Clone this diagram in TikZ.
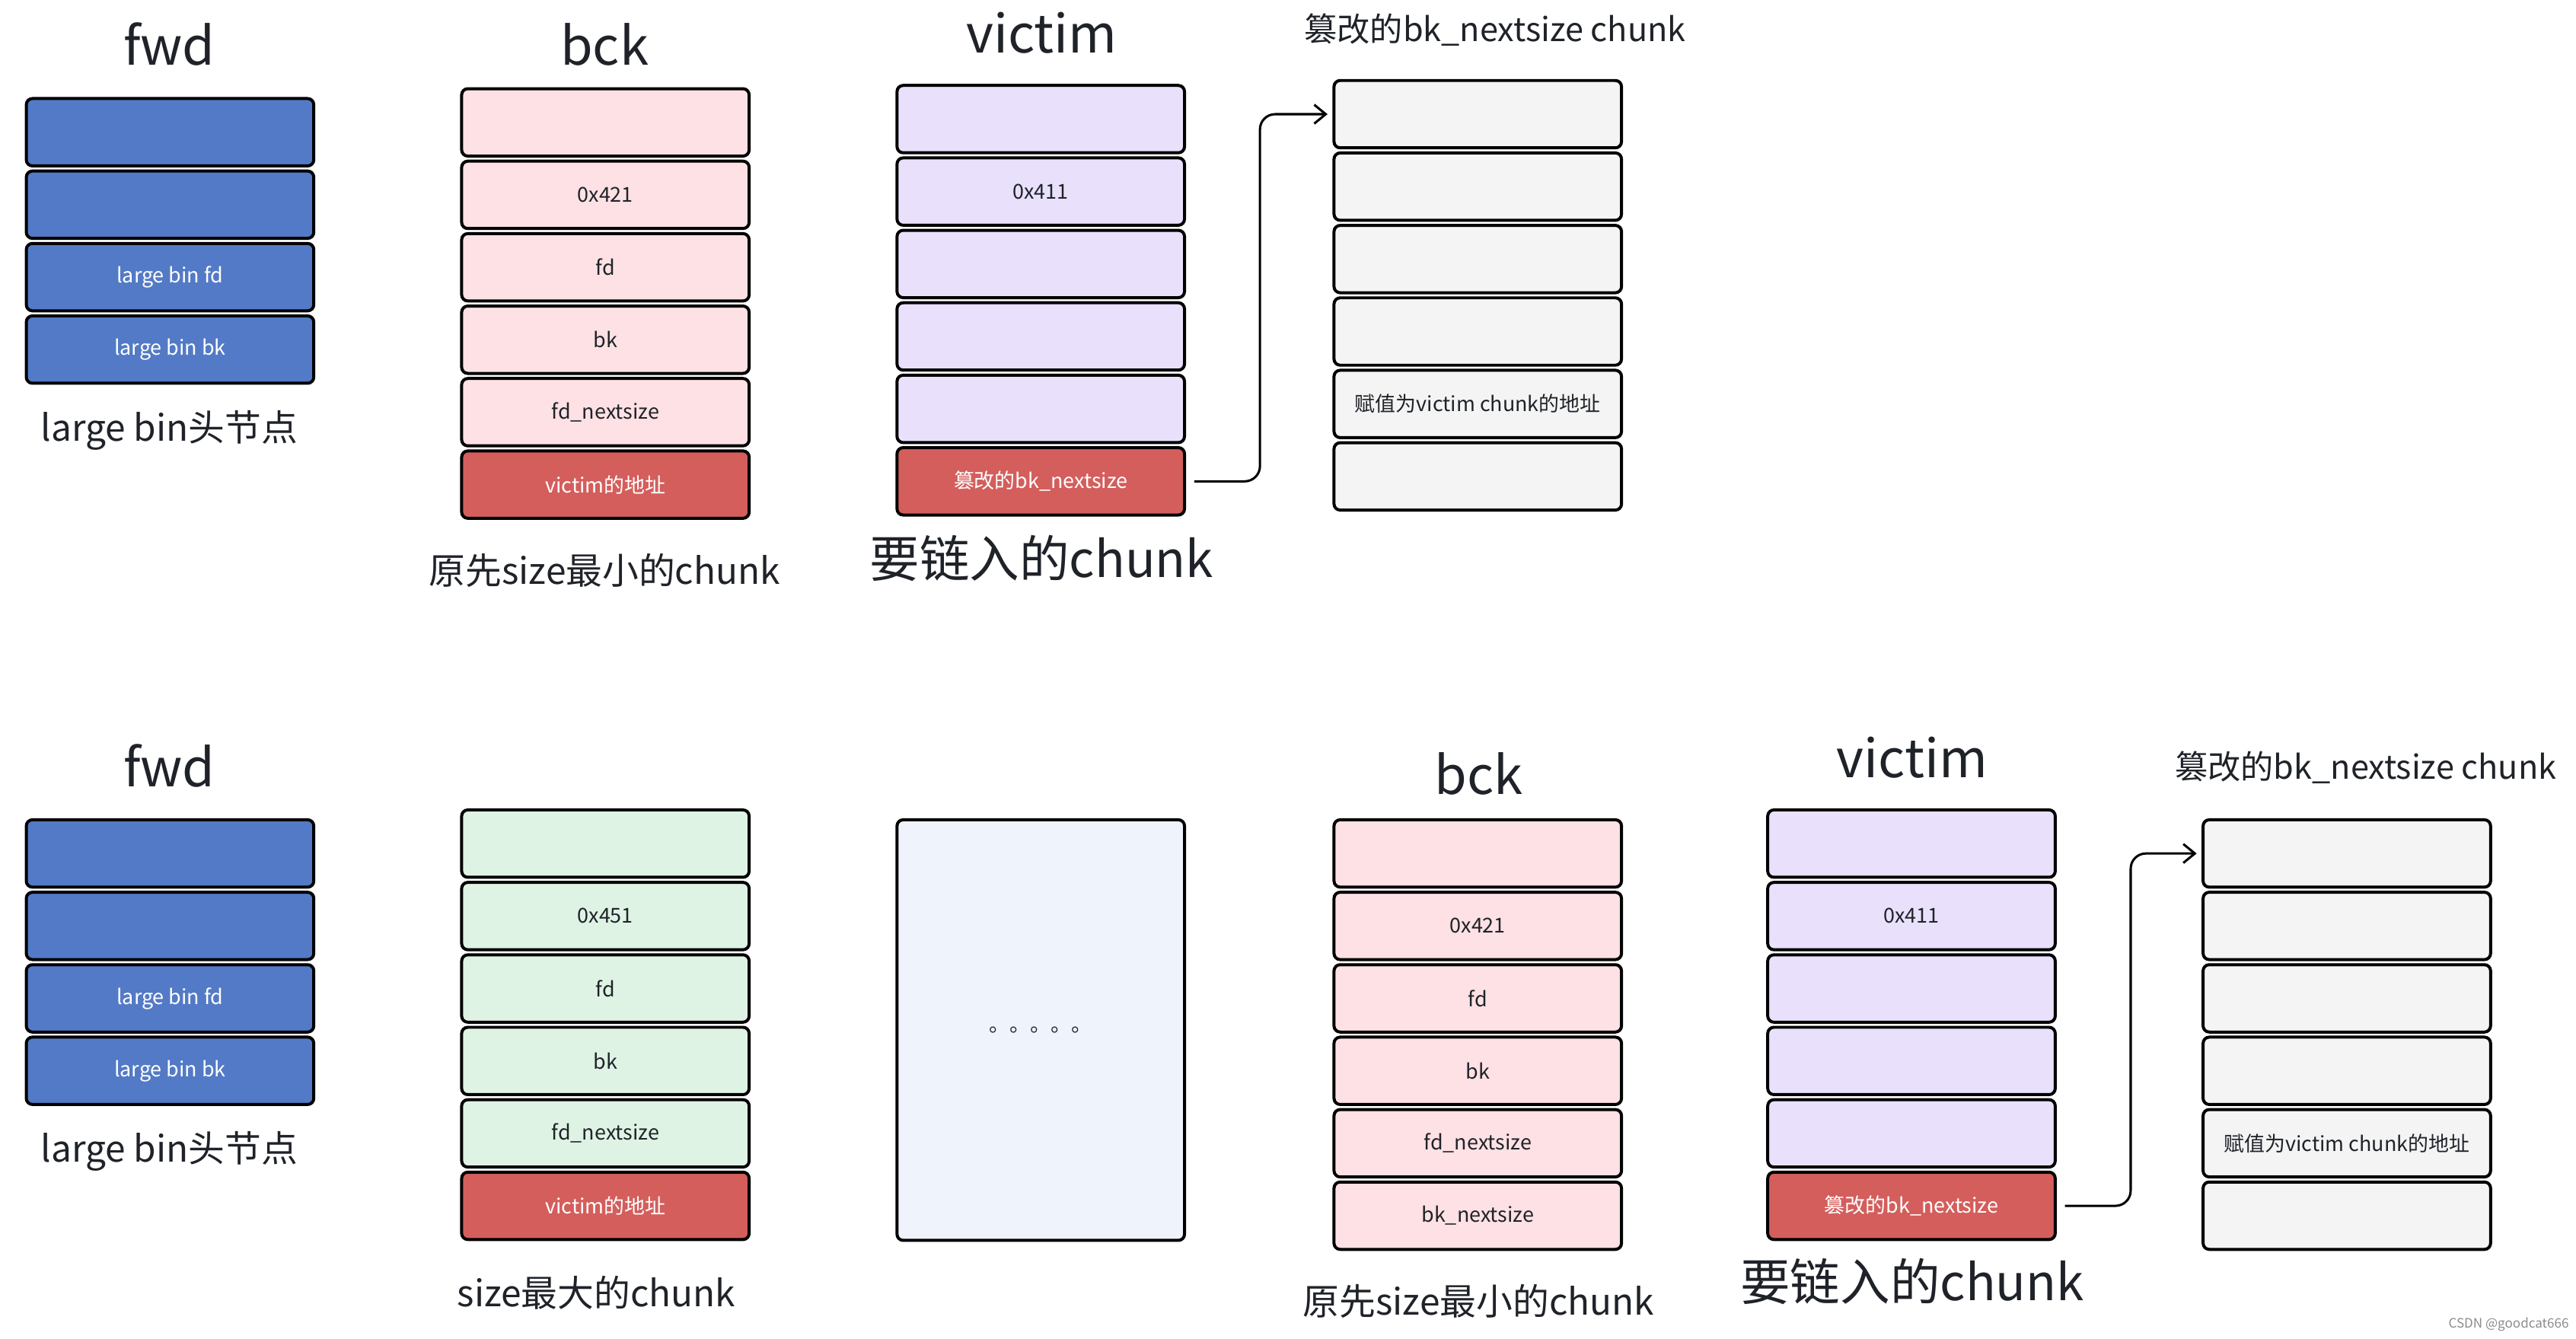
\documentclass[tikz,border=0pt]{standalone}
\usepackage{fontspec}
\setmainfont{Noto Sans CJK SC}
\usepackage{tikz}
\usetikzlibrary{positioning, arrows.meta}
\definecolor{inkdark}{RGB}{31,35,41}
\definecolor{binblue}{RGB}{83,122,198}
\definecolor{chunkpink}{RGB}{253,225,228}
\definecolor{chunkred}{RGB}{212,94,92}
\definecolor{chunklilac}{RGB}{233,225,251}
\definecolor{chunkgray}{RGB}{244,244,244}
\definecolor{chunkgreen}{RGB}{223,243,229}
\definecolor{gapblue}{RGB}{239,243,252}
\tikzset{
  chunkcell/.style = {rectangle, draw=black, line width=1.05pt, rounded corners=0.75mm,
                      minimum width=3.5cm, minimum height=0.82cm, inner sep=0pt,
                      align=center, text=inkdark, font=\fontsize{7.1}{9}\selectfont},
  bluecell/.style  = {chunkcell, fill=binblue, text=white},
  pinkcell/.style  = {chunkcell, fill=chunkpink},
  redcell/.style   = {chunkcell, fill=chunkred, text=white},
  lilaccell/.style = {chunkcell, fill=chunklilac},
  graycell/.style  = {chunkcell, fill=chunkgray},
  greencell/.style = {chunkcell, fill=chunkgreen},
  headtxt/.style   = {inner sep=0pt, text=inkdark, font=\fontsize{18.2}{21}\selectfont},
  notetxt/.style   = {inner sep=0pt, text=inkdark, font=\fontsize{12.6}{15}\selectfont},
  smalltxt/.style  = {inner sep=0pt, text=inkdark, font=\fontsize{11.4}{14}\selectfont},
  bigtxt/.style    = {inner sep=0pt, text=inkdark, font=\fontsize{17.3}{21}\selectfont},
  ptr/.style       = {-{Straight Barb[length=1.4mm,width=2.3mm]}, line width=0.8pt,
                      rounded corners=1.85mm}
}
\begin{document}
\begin{tikzpicture}[x=0.2mm, y=-0.2mm, node distance=0.25mm]
\useasboundingbox (0,0) rectangle (1568,815);

% ---- before: top row ----
\node[headtxt] (fwdA) at (103,27) {fwd};
\node[bluecell] (fa1) at (103.5,80.5) {};
\node[bluecell, below=of fa1] (fa2) {};
\node[bluecell, below=of fa2] (fa3) {large bin fd};
\node[bluecell, below=of fa3] (fa4) {large bin bk};
\node[notetxt] (fwdAcap) at (103,262) {large bin头节点};

\node[headtxt] (bckA) at (368,27) {bck};
\node[pinkcell] (ba1) at (368.5,74.5) {};
\node[pinkcell, below=of ba1] (ba2) {0x421};
\node[pinkcell, below=of ba2] (ba3) {fd};
\node[pinkcell, below=of ba3] (ba4) {bk};
\node[pinkcell, below=of ba4] (ba5) {fd\_nextsize};
\node[redcell, below=of ba5] (ba6) {victim的地址};
\node[notetxt] (bckAcap) at (368,347) {原先size最小的chunk};

\node[headtxt] (vicA) at (634,20) {victim};
\node[lilaccell] (va1) at (633.5,72.5) {};
\node[lilaccell, below=of va1] (va2) {0x411};
\node[lilaccell, below=of va2] (va3) {};
\node[lilaccell, below=of va3] (va4) {};
\node[lilaccell, below=of va4] (va5) {};
\node[redcell, below=of va5] (va6) {篡改的bk\_nextsize};
\node[bigtxt] (vicAcap) at (634,340) {要链入的chunk};

\node[smalltxt] (tgtA) at (910,18) {篡改的bk\_nextsize chunk};
\node[graycell] (ta1) at (899.5,69.5) {};
\node[graycell, below=of ta1] (ta2) {};
\node[graycell, below=of ta2] (ta3) {};
\node[graycell, below=of ta3] (ta4) {};
\node[graycell, below=of ta4] (ta5) {赋值为victim chunk的地址};
\node[graycell, below=of ta5] (ta6) {};

\draw[ptr] ([xshift=1mm]va6.east) -- ++(40,0) |- ([xshift=-0.6mm]ta1.west);

% ---- after: bottom row ----
\node[headtxt] (fwdB) at (103,466) {fwd};
\node[bluecell] (fb1) at (103.5,519.5) {};
\node[bluecell, below=of fb1] (fb2) {};
\node[bluecell, below=of fb2] (fb3) {large bin fd};
\node[bluecell, below=of fb3] (fb4) {large bin bk};
\node[notetxt] (fwdBcap) at (103,701) {large bin头节点};

\node[greencell] (gb1) at (368.5,513.5) {};
\node[greencell, below=of gb1] (gb2) {0x451};
\node[greencell, below=of gb2] (gb3) {fd};
\node[greencell, below=of gb3] (gb4) {bk};
\node[greencell, below=of gb4] (gb5) {fd\_nextsize};
\node[redcell, below=of gb5] (gb6) {victim的地址};
\node[notetxt] (bigBcap) at (363,787) {size最大的chunk};

\node[chunkcell, fill=gapblue, minimum height=5.12cm] (gap) at (633.5,627) {。。。。。};

\node[headtxt] (bckB) at (900,471) {bck};
\node[pinkcell] (bb1) at (899.5,519.5) {};
\node[pinkcell, below=of bb1] (bb2) {0x421};
\node[pinkcell, below=of bb2] (bb3) {fd};
\node[pinkcell, below=of bb3] (bb4) {bk};
\node[pinkcell, below=of bb4] (bb5) {fd\_nextsize};
\node[pinkcell, below=of bb5] (bb6) {bk\_nextsize};
\node[notetxt] (bckBcap) at (900,792) {原先size最小的chunk};

\node[headtxt] (vicB) at (1164,461) {victim};
\node[lilaccell] (vb1) at (1163.5,513.5) {};
\node[lilaccell, below=of vb1] (vb2) {0x411};
\node[lilaccell, below=of vb2] (vb3) {};
\node[lilaccell, below=of vb3] (vb4) {};
\node[lilaccell, below=of vb4] (vb5) {};
\node[redcell, below=of vb5] (vb6) {篡改的bk\_nextsize};
\node[bigtxt] (vicBcap) at (1164,780) {要链入的chunk};

\node[smalltxt] (tgtB) at (1440,467) {篡改的bk\_nextsize chunk};
\node[graycell] (tb1) at (1428.5,519.5) {};
\node[graycell, below=of tb1] (tb2) {};
\node[graycell, below=of tb2] (tb3) {};
\node[graycell, below=of tb3] (tb4) {};
\node[graycell, below=of tb4] (tb5) {赋值为victim chunk的地址};
\node[graycell, below=of tb5] (tb6) {};

\draw[ptr] ([xshift=1mm]vb6.east) -- ++(40,0) |- ([xshift=-0.6mm]tb1.west);

\node[inner sep=0pt, text=black!45, font=\fontsize{4.5}{5}\selectfont] (mark) at (1527,806) {CSDN @goodcat666};
\end{tikzpicture}
\end{document}
